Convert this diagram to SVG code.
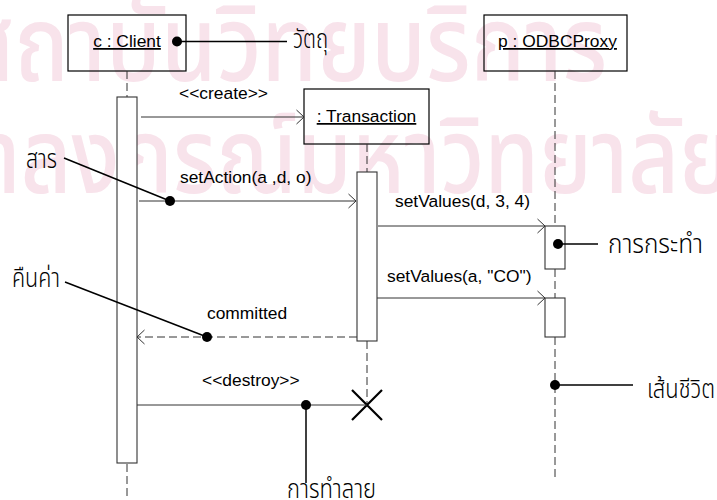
<svg xmlns="http://www.w3.org/2000/svg" width="717" height="500" viewBox="0 0 717 500">
<style>
.bg{fill:#ffffff}
.wm{fill:#f8e3eb;font-family:"Noto Sans Thai","Noto Sans","DejaVu Sans",sans-serif;font-weight:500;font-size:106px}
.box{fill:none;stroke:#000000;stroke-width:1.2}
.act{fill:#ffffff;stroke:#333333;stroke-width:1.1}
.life{fill:none;stroke:#333333;stroke-width:1;stroke-dasharray:8 4}
.msg{fill:none;stroke:#333333;stroke-width:1}
.ret{fill:none;stroke:#333333;stroke-width:1;stroke-dasharray:8 4}
.note{fill:none;stroke:#000000;stroke-width:1.5}
.dot{fill:#000000}
.en{font-family:"Liberation Sans",Arial,sans-serif;font-size:17.4px;fill:#000000}
.nm{font-family:"Liberation Sans",Arial,sans-serif;font-size:17.4px;fill:#000000;text-anchor:middle;text-decoration:underline}
.th{font-family:"Noto Sans Thai","Noto Sans","DejaVu Sans",sans-serif;font-size:26px;font-weight:300;fill:#000000}
.x{fill:none;stroke:#000000;stroke-width:2.2}
</style>
<defs>
<marker id="open" markerUnits="userSpaceOnUse" markerWidth="10" markerHeight="18" refX="8" refY="9" orient="auto">
<path d="M0.5,2 L8,9 L0.5,16" fill="none" stroke="#333333" stroke-width="1"/>
</marker>
</defs>
<rect class="bg" x="0" y="0" width="717" height="500"/>
<g id="watermark">
<text class="wm" x="-38" y="81" textLength="645" lengthAdjust="spacingAndGlyphs">สถาบันวิทยบริการ</text>
<text class="wm" x="-123" y="193" textLength="855" lengthAdjust="spacingAndGlyphs">จุฬาลงกรณ์มหาวิทยาลัย</text>
</g>
<g id="client">
<rect class="box" x="68" y="15" width="118" height="56"/>
<text class="nm" x="127" y="47">c : Client</text>
<line class="life" x1="127" y1="71" x2="127" y2="97"/>
<rect class="act" x="117" y="97" width="20" height="366"/>
<line class="life" x1="127" y1="464" x2="127" y2="500"/>
</g>
<g id="transaction">
<rect class="box" x="304" y="89" width="125" height="55"/>
<text class="nm" x="366.5" y="122">: Transaction</text>
<line class="life" x1="367" y1="144" x2="367" y2="172"/>
<rect class="act" x="357" y="172" width="20" height="169"/>
<line class="life" x1="367" y1="341" x2="367" y2="405"/>
<path class="x" d="M352,390 L382,420 M382,390 L352,420"/>
</g>
<g id="odbcproxy">
<rect class="box" x="484" y="15" width="143" height="56"/>
<text class="nm" x="557.5" y="47">p : ODBCProxy</text>
<line class="life" x1="555" y1="71" x2="555" y2="226"/>
<rect class="act" x="545" y="226" width="20" height="43"/>
<line class="life" x1="555" y1="269" x2="555" y2="298"/>
<rect class="act" x="545" y="298" width="20" height="39"/>
<line class="life" x1="555" y1="337" x2="555" y2="481"/>
</g>
<g id="connectors">
<text class="en" x="179" y="99">&lt;&lt;create&gt;&gt;</text>
<line class="msg" x1="141" y1="117" x2="304" y2="117" marker-end="url(#open)"/>
<text class="en" x="180" y="183">setAction(a ,d, o)</text>
<line class="msg" x1="139" y1="201" x2="356" y2="201" marker-end="url(#open)"/>
<text class="en" x="395" y="207">setValues(d, 3, 4)</text>
<line class="msg" x1="378" y1="226" x2="545" y2="226" marker-end="url(#open)"/>
<text class="en" x="387" y="282">setValues(a, "CO")</text>
<line class="msg" x1="377" y1="298" x2="545" y2="298" marker-end="url(#open)"/>
<text class="en" x="207" y="319">committed</text>
<line class="ret" x1="357" y1="337" x2="137" y2="337" marker-end="url(#open)"/>
<text class="en" x="202" y="386">&lt;&lt;destroy&gt;&gt;</text>
<line class="msg" x1="137" y1="405" x2="367" y2="405"/>
<g id="note-object">
<line class="note" x1="177" y1="41.5" x2="287" y2="41.5"/>
<circle class="dot" cx="177" cy="41.5" r="5"/>
<text class="th" x="293" y="48" textLength="35" lengthAdjust="spacingAndGlyphs">วัตถุ</text>
</g>
<g id="note-message">
<line class="note" x1="64" y1="158" x2="170" y2="201"/>
<circle class="dot" cx="170" cy="201" r="5"/>
<text class="th" x="26" y="168" textLength="31" lengthAdjust="spacingAndGlyphs">สาร</text>
</g>
<g id="note-action">
<line class="note" x1="558" y1="244" x2="598" y2="244"/>
<circle class="dot" cx="558" cy="244" r="5"/>
<text class="th" x="608" y="252.5" textLength="95" lengthAdjust="spacingAndGlyphs">การกระทำ</text>
</g>
<g id="note-return">
<line class="note" x1="65" y1="282" x2="207" y2="337"/>
<circle class="dot" cx="207" cy="337" r="5"/>
<text class="th" x="12" y="287" textLength="48" lengthAdjust="spacingAndGlyphs">คืนค่า</text>
</g>
<g id="note-destroy">
<line class="note" x1="306" y1="405" x2="306" y2="483"/>
<circle class="dot" cx="306" cy="405" r="5"/>
<text class="th" x="287" y="497.5" textLength="89" lengthAdjust="spacingAndGlyphs">การทำลาย</text>
</g>
<g id="note-lifeline">
<line class="note" x1="555" y1="385" x2="633" y2="385"/>
<circle class="dot" cx="555" cy="385" r="5"/>
<text class="th" x="647" y="397.5" textLength="68" lengthAdjust="spacingAndGlyphs">เส้นชีวิต</text>
</g>
</g>
</svg>
